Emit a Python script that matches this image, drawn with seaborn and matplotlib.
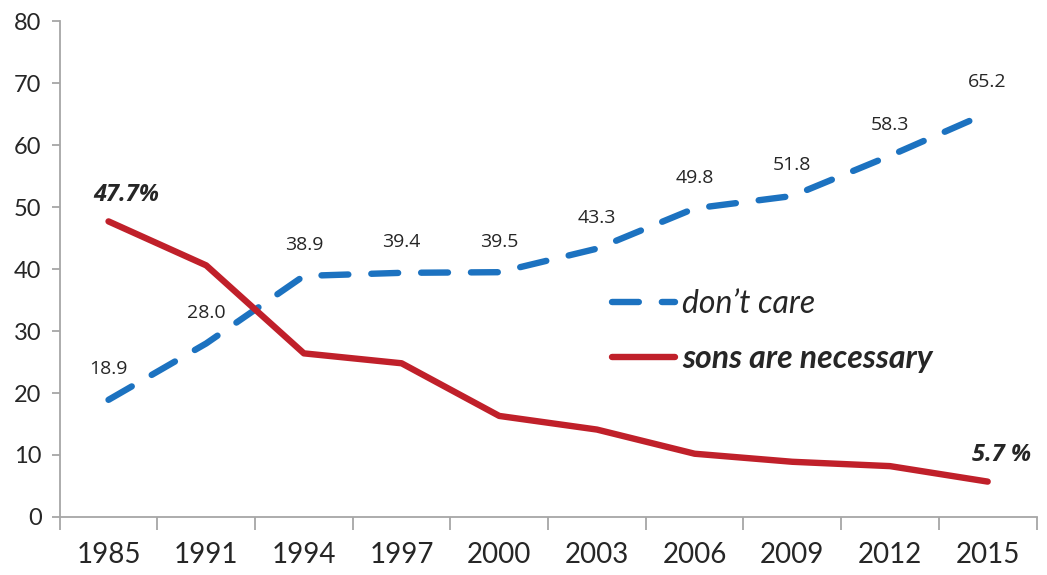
import matplotlib
matplotlib.use("Agg")
import matplotlib.pyplot as plt
import seaborn as sns
import pandas as pd
import numpy as np
from matplotlib.ticker import FixedLocator, NullFormatter

sns.set_theme(style="white")
plt.rcParams["font.family"] = ["Lato", "DejaVu Sans"]

years = ["1985", "1991", "1994", "1997", "2000", "2003", "2006", "2009", "2012", "2015"]
dont_care = [18.9, 28.0, 38.9, 39.4, 39.5, 43.3, 49.8, 51.8, 58.3, 65.2]
sons_necessary = [47.7, 40.6, 26.4, 24.8, 16.3, 14.1, 10.2, 8.9, 8.2, 5.7]

blue = "#1c72c0"
red = "#c0202a"
axis_gray = "#a6a6a6"
text_dark = "#262626"

pos = np.arange(len(years))
df = pd.DataFrame({"pos": pos, "dont": dont_care, "sons": sons_necessary})

fig = plt.figure(figsize=(10.47, 5.75), dpi=100)
ax = fig.add_axes([0.057, 0.101, 0.933, 0.862])

sns.lineplot(data=df, x="pos", y="dont", ax=ax, color=blue, linewidth=4.6,
             label="don\u2019t care", dashes=False)
sns.lineplot(data=df, x="pos", y="sons", ax=ax, color=red, linewidth=4.6,
             label="sons are necessary")
blue_line, red_line = ax.lines[0], ax.lines[1]
blue_line.set_dashes((4.2, 3.6))
blue_line.set_dash_capstyle("round")
red_line.set_solid_capstyle("round")
red_line.set_solid_joinstyle("round")

# value labels
for x, v in zip(pos, dont_care):
    ax.annotate(f"{v:.1f}", (x, v), xytext=(0, 22), textcoords="offset points",
                ha="center", va="center", fontsize=14, color=text_dark,
                family=["Open Sans", "DejaVu Sans"])
ax.annotate(f"{sons_necessary[0]}%", (pos[0], sons_necessary[0]), xytext=(13, 19),
            textcoords="offset points", ha="center", va="center", fontsize=17,
            fontweight="bold", fontstyle="italic", color=text_dark,
            family=["Open Sans", "DejaVu Sans"])
ax.annotate(f"{sons_necessary[-1]} %", (pos[-1], sons_necessary[-1]), xytext=(10, 19),
            textcoords="offset points", ha="center", va="center", fontsize=17,
            fontweight="bold", fontstyle="italic", color=text_dark,
            family=["Open Sans", "DejaVu Sans"])

ax.set_xlim(-0.5, len(years) - 0.5)
ax.set_ylim(0, 80)
ax.set_yticks(range(0, 81, 10))
ax.tick_params(axis="y", labelsize=17, colors=axis_gray, labelcolor=text_dark,
               length=6, width=1.3, direction="out", left=True, pad=7)

# category boundaries carry the tick marks; labels sit at the centres
ax.xaxis.set_major_locator(FixedLocator(np.arange(-0.5, len(years), 1.0)))
ax.xaxis.set_major_formatter(NullFormatter())
ax.xaxis.set_minor_locator(FixedLocator(pos))
ax.set_xticklabels(years, minor=True)
ax.tick_params(axis="x", which="major", length=9, width=1.3, colors=axis_gray,
               direction="out", bottom=True)
ax.tick_params(axis="x", which="minor", length=0, labelsize=20, labelcolor=text_dark,
               pad=18, bottom=True)

for s in ["top", "right"]:
    ax.spines[s].set_visible(False)
for s in ["left", "bottom"]:
    ax.spines[s].set_color(axis_gray)
    ax.spines[s].set_linewidth(1.3)

ax.set_xlabel("")
ax.set_ylabel("")
ax.grid(False)

leg = ax.legend(loc="center left", bbox_to_anchor=(0.565, 0.375), frameon=False,
                handlelength=2.0, handletextpad=0.2, labelspacing=0.8,
                borderpad=0, borderaxespad=0,
                prop={"size": 23, "style": "italic"})
texts = leg.get_texts()
texts[1].set_fontweight("bold")
for t in texts:
    t.set_color(text_dark)
for h in leg.legend_handles:
    h.set_linewidth(4.6)
    h.set_dash_capstyle("round")
    h.set_solid_capstyle("round")

fig.savefig("out.png", dpi=100, facecolor="white")
